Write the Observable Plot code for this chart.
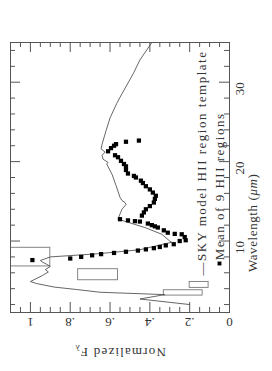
<!DOCTYPE html>
<html><head><meta charset="utf-8">
<script src="https://cdn.jsdelivr.net/npm/d3@7"></script>
<script src="https://cdn.jsdelivr.net/npm/@observablehq/plot@0.6"></script>
<style>body{margin:0;background:#fff} svg{display:block}</style>
</head><body><div id="chart"></div>
<script>
// SKY model HII region template (wavelength µm, normalized flux)
const modelWavelength = [35.0, 32.8, 31.1, 28.1, 27.3, 25.5, 23.9, 22.2, 21.6, 21.2, 20.8, 20.3, 19.9, 19.7, 18.4, 17.0, 15.5, 15.1, 14.85, 14.6, 14.0, 13.4, 12.75, 11.7, 10.85, 10.0, 9.85, 8.9, 8.4, 8.0, 7.55, 7.35, 7.1, 6.8, 6.4, 6.1, 5.65, 4.9, 4.65, 4.2, 3.9, 3.55, 3.25, 2.7, 2.0];
const modelFlux       = [0.39, 0.45, 0.483, 0.55, 0.567, 0.60, 0.62, 0.64, 0.645, 0.625, 0.64, 0.635, 0.61, 0.617, 0.59, 0.57, 0.55, 0.54, 0.525, 0.52, 0.54, 0.55, 0.56, 0.425, 0.34, 0.30, 0.29, 0.45, 0.66, 0.90, 0.95, 0.94, 0.92, 0.90, 0.925, 0.91, 0.94, 1.0, 0.97, 0.88, 0.77, 0.65, 0.325, 0.45, 0.2];

// Mean of 9 HII regions
const meanWavelength = [7.6, 7.8, 8.0, 8.2, 8.35, 8.5, 8.65, 8.8, 8.95, 9.1, 9.25, 9.45, 9.6, 10.0, 10.1, 10.5, 10.85, 10.9, 11.05, 11.35, 11.7, 11.85, 12.0, 12.2, 12.45, 12.5, 12.6, 12.75, 13.2, 13.6, 14.0, 14.4, 14.85, 15.3, 15.7, 16.1, 16.5, 16.9, 17.3, 17.6, 18.0, 18.2, 18.5, 18.95, 19.4, 19.7, 20.1, 20.55, 20.8, 21.3, 21.7, 22.0, 22.2, 22.5, 22.65];
const meanFlux       = [0.99, 0.80, 0.745, 0.69, 0.645, 0.58, 0.52, 0.46, 0.42, 0.38, 0.35, 0.32, 0.28, 0.25, 0.22, 0.225, 0.24, 0.275, 0.31, 0.33, 0.36, 0.375, 0.39, 0.41, 0.45, 0.475, 0.51, 0.55, 0.44, 0.43, 0.42, 0.40, 0.38, 0.375, 0.37, 0.385, 0.40, 0.42, 0.435, 0.445, 0.47, 0.48, 0.51, 0.52, 0.52, 0.53, 0.545, 0.56, 0.575, 0.61, 0.595, 0.58, 0.57, 0.52, 0.455];

// photometric band boxes
const boxWlLo   = [6.8, 5.06, 3.13, 4.1];
const boxWlHi   = [9.15, 6.45, 3.8, 4.85];
const boxFluxLo = [0.9, 0.56, 0.135, 0.105];
const boxFluxHi = [1.2, 0.76, 0.33, 0.20];

// ticks
const fluxTicks = [0, 0.2, 0.4, 0.6, 0.8, 1];
const fluxTickLabels = ["0", ".2", ".4", ".6", ".8", "1"];
const fluxMinor = d3.range(0, 22).map(i => i * 0.05).filter(v => Math.abs(v / 0.2 - Math.round(v / 0.2)) > 1e-6);
const wlTicks = [10, 20, 30];
const wlMinor = d3.range(2, 35, 2).filter(v => v % 10 !== 0);

const model = modelWavelength.map((w, i) => ({wl: w, flux: modelFlux[i]}));
const mean = meanWavelength.map((w, i) => ({wl: w, flux: meanFlux[i]}));
const boxes = boxWlLo.map((w, i) => ({w1: w, w2: boxWlHi[i], f1: boxFluxLo[i], f2: boxFluxHi[i]}));

const W = 272, H = 371, mL = 10, mR = 43, mT = 42, mB = 59;
const iw = W - mL - mR, ih = H - mT - mB;
const ink = "#333";
const font = "Liberation Serif, Times New Roman, serif";

const plot = Plot.plot({
  width: W, height: H,
  marginLeft: mL, marginRight: mR, marginTop: mT, marginBottom: mB,
  style: {fontFamily: font, fontSize: "13px", color: ink, background: "#fff"},
  x: {domain: [0, 1.1], reverse: true, axis: null},
  y: {domain: [1, 35], axis: null},
  marks: [
    Plot.rect(boxes, {x1: "f1", x2: "f2", y1: "w1", y2: "w2", fill: "none", stroke: "#777", strokeWidth: 0.9, clip: true}),
    Plot.line(model, {x: "flux", y: "wl", stroke: "#555", strokeWidth: 0.9, clip: true}),
    Plot.dot(mean, {x: "flux", y: "wl", symbol: "square", r: 2.4, fill: "#000", stroke: "none"}),
    Plot.frame({stroke: "#555", strokeWidth: 1}),
    // flux ticks bottom & top
    Plot.tickX(fluxTicks, {x: d => d, insetTop: ih - 10, stroke: "#555"}),
    Plot.tickX(fluxTicks, {x: d => d, insetBottom: ih - 10, stroke: "#555"}),
    Plot.tickX(fluxMinor, {x: d => d, insetTop: ih - 5, stroke: "#555"}),
    Plot.tickX(fluxMinor, {x: d => d, insetBottom: ih - 5, stroke: "#555"}),
    // wavelength ticks left & right
    Plot.tickY(wlTicks, {y: d => d, insetRight: iw - 10, stroke: "#555"}),
    Plot.tickY(wlTicks, {y: d => d, insetLeft: iw - 10, stroke: "#555"}),
    Plot.tickY(wlMinor, {y: d => d, insetRight: iw - 5, stroke: "#555"}),
    Plot.tickY(wlMinor, {y: d => d, insetLeft: iw - 5, stroke: "#555"}),
    // tick labels
    Plot.text(fluxTicks, {x: d => d, text: (d, i) => fluxTickLabels[i], frameAnchor: "bottom", dy: 10, rotate: 180, lineAnchor: "middle", fill: ink}),
    Plot.text(wlTicks, {y: d => d, text: d => String(d), frameAnchor: "right", dx: 10, rotate: -90, lineAnchor: "middle", fill: ink}),
    // axis titles
    Plot.text(["Normalized Fλ"], {frameAnchor: "bottom", dy: 40, rotate: 180, lineAnchor: "middle", fill: ink}),
    Plot.text(["Wavelength (μm)"], {frameAnchor: "right", dx: 23, dy: -4, rotate: -90, lineAnchor: "middle", fill: ink}),
    // legend
    Plot.text(["—SKY model HII region template"], {frameAnchor: "bottom-right", dx: -28, dy: -262, rotate: -90, textAnchor: "end", lineAnchor: "middle", fill: ink}),
    Plot.text(["Mean of 9 HII regions"], {frameAnchor: "bottom-right", dx: -10, dy: -200, rotate: -90, textAnchor: "end", lineAnchor: "middle", fill: ink}),
    Plot.dot([0], {frameAnchor: "bottom-right", dx: -10, dy: -49, symbol: "square", r: 2.2, fill: "#000", stroke: "none"})
  ]
});

const svg = d3.select(plot);
svg.selectAll("text").each(function() {
  const t = d3.select(this);
  const s = this.textContent;
  if (s.length > 10) t.attr("letter-spacing", "1.5");
  if (s === "Normalized Fλ") {
    t.attr("letter-spacing", "1.2");
    t.text("Normalized F");
    t.append("tspan").attr("font-size", 9).attr("dy", 3).text("λ");
  }
  if (s === "Wavelength (μm)") {
    t.attr("letter-spacing", "0.6");
    t.text("Wavelength (");
    t.append("tspan").attr("font-style", "italic").text("μm");
    t.append("tspan").text(")");
  }
});
document.getElementById("chart").appendChild(plot);
</script>
</body></html>
